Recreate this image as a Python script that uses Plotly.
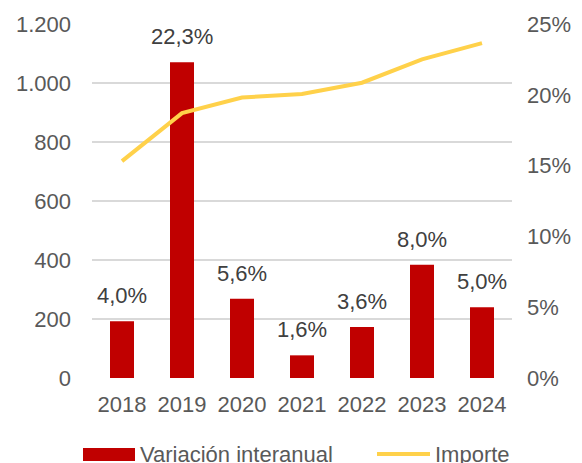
import plotly.graph_objects as go

years = ["2018", "2019", "2020", "2021", "2022", "2023", "2024"]
variacion = [4.0, 22.3, 5.6, 1.6, 3.6, 8.0, 5.0]  # % interanual
importe = [735, 898, 951, 963, 1001, 1080, 1135]

RED = "#C00000"
YELLOW = "#FFD14A"
GRID = "#D9D9D9"
TICK = "#595959"
FONT = "Liberation Sans"
FS = 22

# the page body adds an 8px margin, so work in figure pixels = screen - 8
# and shrink the figure so it still fits in the 582x463 window
OFF = 8
W, H = 582 - OFF, 463 - OFF
L, R, T, B = 92 - OFF, 512 - OFF, 24 - OFF, 378 - OFF


def px(x):
    return (x - OFF - L) / (R - L)


def py(y):
    return (B - (y - OFF)) / (B - T)


fig = go.Figure()

# bars on the % axis (primary y, drawn on the right side)
fig.add_trace(go.Bar(
    x=years, y=variacion, name="Variación interanual",
    marker=dict(color=RED, line=dict(width=0)),
    yaxis="y", showlegend=False,
))

# line on the importe axis (overlay, left side) so it sits above the bars
fig.add_trace(go.Scatter(
    x=years, y=importe, name="Importe", mode="lines",
    line=dict(color=YELLOW, width=4),
    yaxis="y2", showlegend=False,
))

# data labels above bars (category index as x, years look numeric to annotations)
for i, v in enumerate(variacion):
    fig.add_annotation(
        x=i, y=v, xref="x", yref="y",
        text=f"{v:.1f}%".replace(".", ","),
        showarrow=False, yanchor="bottom", yshift=11,
        font=dict(family=FONT, size=FS, color="#404040"),
    )

# legend drawn by hand: wide red block and yellow line like the original
fig.add_shape(type="rect", xref="paper", yref="paper",
              x0=px(83), x1=px(135), y0=py(461), y1=py(448),
              fillcolor=RED, line=dict(width=0))
fig.add_annotation(x=px(138), y=py(454), xref="paper", yref="paper",
                   text="Variación interanual", showarrow=False,
                   xanchor="left", yanchor="middle",
                   font=dict(family=FONT, size=FS, color=TICK))
fig.add_shape(type="line", xref="paper", yref="paper",
              x0=px(377), x1=px(430), y0=py(454), y1=py(454),
              line=dict(color=YELLOW, width=4))
fig.add_annotation(x=px(433), y=py(454), xref="paper", yref="paper",
                   text="Importe", showarrow=False,
                   xanchor="left", yanchor="middle",
                   font=dict(family=FONT, size=FS, color=TICK))

fig.update_layout(
    width=W, height=H,
    margin=dict(l=L, r=W - R, t=T, b=H - B, autoexpand=False),
    paper_bgcolor="white", plot_bgcolor="white",
    separators=",.",
    font=dict(family=FONT, size=FS, color=TICK),
    bargap=0.6,
    showlegend=False,
    xaxis=dict(
        type="category", automargin=False,
        showgrid=False, zeroline=False, showline=False,
        ticks="", ticklabelstandoff=11,
        tickfont=dict(family=FONT, size=FS, color=TICK),
    ),
    yaxis=dict(
        side="right", range=[0, 25], dtick=5, ticksuffix="%",
        automargin=False,
        showgrid=False, zeroline=False, showline=False,
        ticklabelstandoff=14,
        tickfont=dict(family=FONT, size=FS, color=TICK),
    ),
    yaxis2=dict(
        side="left", overlaying="y", range=[0, 1200], dtick=200,
        tickformat=",d", automargin=False,
        showgrid=True, gridcolor=GRID, gridwidth=1.5,
        zeroline=False, showline=False,
        ticklabelstandoff=20,
        tickfont=dict(family=FONT, size=FS, color=TICK),
    ),
)

fig.write_html("out.html")
